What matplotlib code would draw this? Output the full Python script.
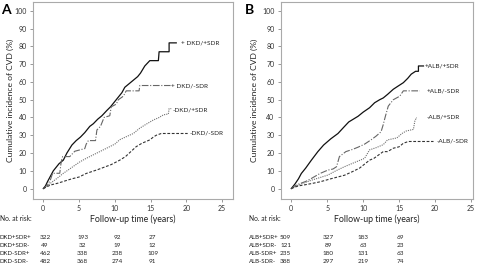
import matplotlib.pyplot as plt
from matplotlib.transforms import blended_transform_factory

plt.rcParams['font.family'] = ['Lato', 'DejaVu Sans']

# panel A: cumulative incidence by DKD / SDR
a_pp_t = [0, 0.3, 0.6, 1.0, 1.4, 1.8, 2.2, 2.8, 3.3, 4.0, 4.6, 5.2, 5.8, 6.5, 7.0, 7.6, 8.2, 8.9,
          9.4, 10.0, 10.6, 11.0, 11.4, 12.0, 12.6, 13.2, 13.6, 14.2, 14.9, 16.1, 16.2, 17.6, 17.6, 18.6]
a_pp_v = [0, 1.5, 4, 7, 10, 12, 14, 16, 20, 24.5, 27, 29, 31.5, 35, 36.5, 39, 41, 44,
          46, 49, 52, 54, 57, 59, 61, 63, 65, 69, 72, 72, 77, 77, 82, 82]
a_pm_t = [0, 0.6, 1.0, 1.3, 2.3, 2.5, 2.7, 3.7, 4.4, 5.8, 6.0, 6.3, 7.3, 7.5, 8.0, 8.5, 9.3,
          9.5, 10.2, 10.5, 11.2, 11.6, 13.4, 13.5, 17.8]
a_pm_v = [0, 2, 5, 8.6, 8.6, 15, 18, 18, 21, 22.5, 25, 27, 27, 33, 35, 40, 41,
          46, 47.5, 50, 52, 55, 55, 58, 58]
a_mp_t = [0, 0.5, 1.0, 1.5, 2.0, 2.8, 3.5, 4.2, 5.1, 6.0, 7.0, 8.0, 9.0, 10.0, 10.7, 11.5, 12.6,
          13.5, 14.3, 15.4, 16.2, 16.8, 17.5, 17.6, 17.9]
a_mp_v = [0, 1.5, 3, 4.5, 6, 8.6, 10.5, 12.5, 15, 17, 19, 21, 23, 25, 27.5, 29, 31,
          34, 36, 38.6, 40, 41.5, 42, 45, 45]
a_mm_t = [0, 0.5, 1.0, 2.0, 2.8, 4.0, 5.0, 6.0, 7.5, 8.5, 9.5, 10.7, 11.5, 12.3, 13.0, 13.8,
          14.9, 15.4, 15.8, 16.5, 20.2]
a_mm_v = [0, 1, 2, 3, 4, 5.5, 6.5, 8.5, 10.5, 12, 13.5, 16, 18, 21, 23.6, 25.5,
          27.4, 29, 30, 31, 31]

# panel B: cumulative incidence by ALB / SDR
b_pp_t = [0, 0.5, 1.0, 1.4, 2.0, 2.8, 3.7, 4.5, 5.5, 6.5, 7.3, 8.0, 9.3, 10.0, 10.9, 11.6, 12.3,
          12.8, 13.4, 14.2, 14.8, 15.6, 16.2, 16.7, 17.3, 17.7, 17.7, 18.4]
b_pp_v = [0, 2.5, 5.5, 8.5, 11.5, 16, 20.8, 24.5, 28, 31, 34.5, 37.5, 40.7, 43, 45.5, 48.3, 50,
          51, 53, 55.9, 57.5, 59.6, 62, 64.4, 66, 66, 69, 69]
b_pm_t = [0, 0.5, 1.0, 2.0, 2.8, 4.0, 5.1, 5.8, 6.3, 6.7, 7.6, 8.5, 9.3, 10.2, 11.1, 11.8, 12.5,
          12.8, 13.1, 13.5, 14.2, 15.1, 15.6, 17.9]
b_pm_v = [0, 1.5, 2.5, 4, 5.7, 8.5, 10.4, 11, 12.3, 18, 20.8, 22, 23.3, 25, 27.4, 29.5, 32,
          36, 40.7, 46.4, 50, 52, 55, 55]
b_mp_t = [0, 0.5, 1.0, 2.0, 2.8, 4.0, 5.1, 6.2, 7.4, 8.7, 10.2, 10.9, 11.8, 12.8, 13.4, 14.7,
          15.4, 16.0, 17.0, 17.2, 17.4, 17.5]
b_mp_v = [0, 1, 2, 3.5, 4.7, 6.2, 7.6, 10, 12.3, 14.5, 17, 21.8, 23, 24.7, 27.4, 28.5,
          31, 32.4, 33.3, 38, 39.8, 39.8]
b_mm_t = [0, 0.5, 1.0, 2.0, 2.8, 4.0, 5.5, 7.4, 8.5, 9.5, 10.9, 11.5, 12.8, 13.4, 14.2, 15.0,
          15.6, 16.3, 19.8]
b_mm_v = [0, 0.8, 1.5, 2.2, 2.8, 3.8, 5.5, 7.5, 9.5, 11.5, 16, 17, 20.8, 20.8, 22.7, 23.5,
          25.5, 26.5, 26.5]

a_labels = ['+ DKD/+SDR', '+ DKD/-SDR', '-DKD/+SDR', '-DKD/-SDR']
b_labels = ['+ALB/+SDR', '+ALB/-SDR', '-ALB/+SDR', '-ALB/-SDR']

# numbers at risk
a_risk_rows = ['DKD+SDR+', 'DKD+SDR-', 'DKD-SDR+', 'DKD-SDR-']
a_risk = [[322, 193, 92, 27], [49, 32, 19, 12], [462, 338, 238, 109], [482, 368, 274, 91]]
b_risk_rows = ['ALB+SDR+', 'ALB+SDR-', 'ALB-SDR+', 'ALB-SDR-']
b_risk = [[509, 327, 183, 69], [121, 89, 63, 23], [235, 180, 131, 63], [388, 297, 219, 74]]

styles = [
    dict(color='#111111', ls='-', lw=0.9),
    dict(color='#666666', ls=(0, (6, 1.5, 1, 1.5)), lw=0.8),
    dict(color='#707070', ls=(0, (1, 1)), lw=0.8),
    dict(color='#333333', ls=(0, (2.5, 1.5)), lw=0.8),
]

fig = plt.figure(figsize=(4.82, 2.67), dpi=100)
axA = fig.add_axes([0.0691, 0.2558, 0.4137, 0.7367])
axB = fig.add_axes([0.5824, 0.2558, 0.399, 0.7367])

panels = [
    (axA, 'A', 0.0, 0.0, 0.5,
     [(a_pp_t, a_pp_v), (a_pm_t, a_pm_v), (a_mp_t, a_mp_v), (a_mm_t, a_mm_v)],
     a_labels, [(19.3, 82), (17.9, 58), (18.1, 44), (20.4, 31)],
     a_risk_rows, a_risk, [0.25, 5.5, 10.3, 15.3], (-1.4, 26.5)),
    (axB, 'B', 0.506, 0.5166, 3,
     [(b_pp_t, b_pp_v), (b_pm_t, b_pm_v), (b_mp_t, b_mp_v), (b_mm_t, b_mm_v)],
     b_labels, [(18.6, 69), (18.8, 55), (18.8, 40), (20.2, 26.5)],
     b_risk_rows, b_risk, [-0.8, 5.15, 10.05, 15.2], (-1.47, 25.3)),
]

for ax, letter, let_x, tab_x, ypad, curves, labels, lab_pos, rows, risk, col_x, xlim in panels:
    for (t, v), st, lab, (lx, ly) in zip(curves, styles, labels, lab_pos):
        ax.plot(t, v, **st)
        ax.text(lx, ly, lab, fontsize=4.6, va='center', ha='left', color='#222222')
    ax.set_xlim(*xlim)
    ax.set_ylim(-5.7, 105)
    ax.set_xticks(range(0, 30, 5))
    ax.set_yticks(range(0, 110, 10))
    ax.tick_params(labelsize=5, length=2.5, width=0.6, color='#888888', labelcolor='#333333', pad=2)
    for s in ax.spines.values():
        s.set_color('#aaaaaa')
        s.set_linewidth(0.8)
    ax.set_xlabel('Follow-up time (years)', fontsize=6.3, color='#222222', labelpad=1.5)
    ax.set_ylabel('Cumulative incidence of CVD (%)', fontsize=6.1, color='#222222', labelpad=ypad)
    fig.text(let_x + 0.002, 0.962, letter, fontsize=10, fontweight='bold', va='center', ha='left')

    # number at risk table
    tr = blended_transform_factory(ax.transData, fig.transFigure)
    fig.text(tab_x, 0.1835, 'No. at risk:', fontsize=4.8, va='center', ha='left', color='#222222')
    for i, (name, vals) in enumerate(zip(rows, risk)):
        y = 0.1097 - i * 0.0291
        fig.text(tab_x, y, name, fontsize=4.4, va='center', ha='left', color='#222222')
        for cx, n in zip(col_x, vals):
            ax.text(cx, y, str(n), transform=tr, fontsize=4.6, va='center', ha='center',
                    color='#222222')

fig.savefig('out.png', dpi=100)
